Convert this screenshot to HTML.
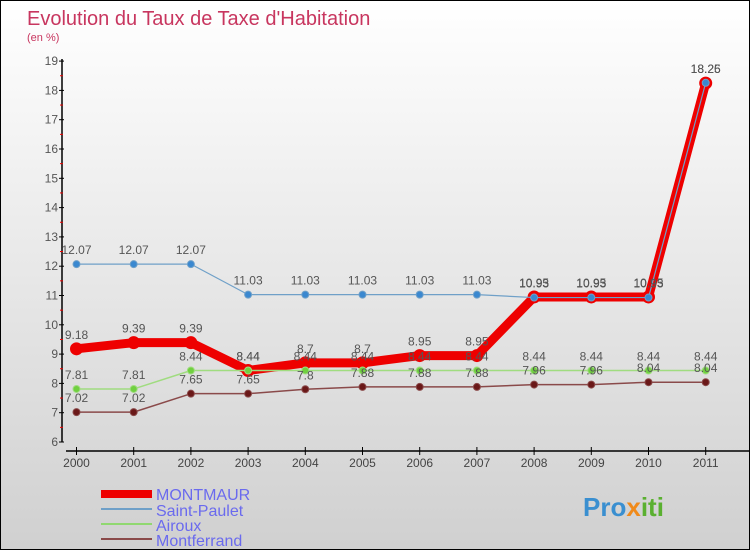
<!DOCTYPE html>
<html><head><meta charset="utf-8"><style>
body{margin:0}
#c{position:relative;width:750px;height:550px;box-sizing:border-box;border:1px solid #000;background:linear-gradient(#fff,#d0d0d0);font-family:"Liberation Sans",sans-serif;overflow:hidden}
</style></head><body>
<div id="c">
<svg width="750" height="550" id="svg">
<text x="26" y="24" font-size="20" fill="#c8365f">Evolution du Taux de Taxe d'Habitation</text>
<text x="26" y="40" font-size="11" fill="#c8365f">(en %)</text>
<g id="axes"></g><g id="series"></g>
<g>
<rect x="100" y="489" width="51" height="8" fill="#e00"/>
<text x="155" y="499" font-size="16" fill="#6a6aee">MONTMAUR</text>
<rect x="100" y="507" width="51" height="2" fill="#6fa0c8"/>
<text x="155" y="515" font-size="16" fill="#6a6aee">Saint-Paulet</text>
<rect x="100" y="522" width="51" height="2" fill="#90d870"/>
<text x="155" y="530" font-size="16" fill="#6a6aee">Airoux</text>
<rect x="100" y="537" width="51" height="2" fill="#8a4a4a"/>
<text x="155" y="545" font-size="16" fill="#6a6aee">Montferrand</text>
</g>
<text x="582" y="515" font-size="26" font-weight="bold" fill="#3a8fd0">Pro<tspan fill="#f08a1a">x</tspan><tspan fill="#5ab030">iti</tspan></text>
</svg>
</div>
<script>
const years=["2000","2001","2002","2003","2004","2005","2006","2007","2008","2009","2010","2011"];
const yTicks=[6,7,8,9,10,11,12,13,14,15,16,17,18,19];
const montmaur=[9.18,9.39,9.39,8.44,8.7,8.7,8.95,8.95,10.95,10.95,10.95,18.25];
const saintPaulet=[12.07,12.07,12.07,11.03,11.03,11.03,11.03,11.03,10.93,10.93,10.93,18.26];
const airoux=[7.81,7.81,8.44,8.44,8.44,8.44,8.44,8.44,8.44,8.44,8.44,8.44];
const montferrand=[7.02,7.02,7.65,7.65,7.8,7.88,7.88,7.88,7.96,7.96,8.04,8.04];
const NS="http://www.w3.org/2000/svg";
const X=i=>75.5+i*57.2;
const Y=v=>441-(v-6)*29.3;
function mk(t,a,p){const e=document.createElementNS(NS,t);for(const k in a)e.setAttribute(k,a[k]);p.appendChild(e);return e;}
const ax=document.getElementById('axes');
let l=mk('line',{x1:61,y1:58,x2:61,y2:441,stroke:'#000','stroke-width':1.5},ax);


l=mk('line',{x1:65,y1:450,x2:750,y2:450,stroke:'#000','stroke-width':1.5},ax);


yTicks.forEach(v=>{
 mk('line',{x1:58,y1:Y(v),x2:63,y2:Y(v),stroke:'#000'},ax);
 if(v<19)mk('line',{x1:59,y1:Y(v+0.5),x2:62,y2:Y(v+0.5),stroke:'#e00'},ax);
 const t=mk('text',{x:57,y:Y(v)+4,'font-size':12,fill:'#555','text-anchor':'end'},ax);
 t.textContent=v;
 
 
});
years.forEach((y,i)=>{
 mk('line',{x1:X(i),y1:446,x2:X(i),y2:454,stroke:'#000'},ax);
 const t=mk('text',{x:X(i),y:466,'font-size':12,fill:'#444','text-anchor':'middle'},ax);
 t.textContent=y;
 
 
});
const sg=document.getElementById('series');
function draw(vals,name,color,w,r,dot){
 const g=mk('g',{},sg);
 
 
 mk('polyline',{points:vals.map((v,i)=>X(i)+','+Y(v)).join(' '),fill:'none',stroke:color,'stroke-width':w,'stroke-linejoin':'round'},g);
 vals.forEach((v,i)=>{
  const c=mk('circle',{cx:X(i),cy:Y(v),r:r,fill:dot,stroke:color,'stroke-width':1},g);
  
  
  const t=mk('text',{x:X(i),y:Y(v)-10,'font-size':12,fill:'#555','text-anchor':'middle'},g);
  t.textContent=String(v);
  
  
 });
}
draw(montmaur,'montmaur','#e00',9,6,'#e00');
draw(saintPaulet,'saint-paulet','#6fa0c8',1.2,3.5,'#3a88d0');
draw(airoux,'airoux','#a0dc80',1.5,3.5,'#70d040');
draw(montferrand,'montferrand','#8a4a4a',1.5,3.5,'#6a1818');
</script>
</body></html>
